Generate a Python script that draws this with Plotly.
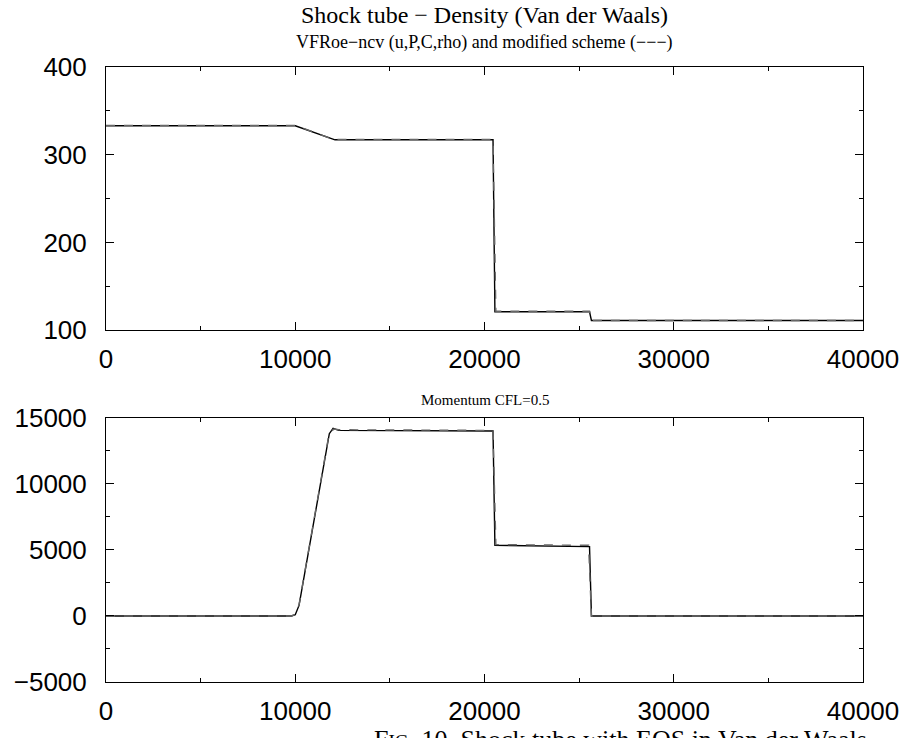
import plotly.graph_objects as go

# Density (top panel)
dens_x_ref = [0, 10000, 12100, 20450, 20550, 25550, 25650, 40000]
dens_y_ref = [333, 333, 317, 317, 121, 121, 111, 111]
dens_x_mod = [0, 10000, 12000, 20450, 20600, 25550, 25650, 40000]
dens_y_mod = [333.5, 333.5, 317.5, 317.5, 121.5, 121.5, 111, 111]

# Momentum (bottom panel)
mom_x_ref = [0, 9800, 10000, 10200, 11800, 12000, 12300, 20450, 20550, 25550, 25650, 40000]
mom_y_ref = [0, 0, 100, 800, 13800, 14200, 14050, 14000, 5350, 5250, 0, 0]
mom_x_mod = [0, 9800, 10000, 10200, 11800, 12050, 12300, 20450, 20600, 25500, 25650, 40000]
mom_y_mod = [0, 0, 120, 850, 13900, 14150, 14100, 14050, 5400, 5350, 0, 0]

x_ticks = [0, 10000, 20000, 30000, 40000]
dens_ticks = [100, 200, 300, 400]
mom_ticks = [-5000, 0, 5000, 10000, 15000]

fig = go.Figure()
fig.add_trace(go.Scatter(x=dens_x_ref, y=dens_y_ref, mode="lines",
                         line=dict(color="black", width=1.4), xaxis="x", yaxis="y"))
fig.add_trace(go.Scatter(x=dens_x_mod, y=dens_y_mod, mode="lines",
                         line=dict(color="#666666", width=1.4, dash="dash"), xaxis="x", yaxis="y"))
fig.add_trace(go.Scatter(x=mom_x_ref, y=mom_y_ref, mode="lines",
                         line=dict(color="black", width=1.4), xaxis="x2", yaxis="y2"))
fig.add_trace(go.Scatter(x=mom_x_mod, y=mom_y_mod, mode="lines",
                         line=dict(color="#666666", width=1.4, dash="dash"), xaxis="x2", yaxis="y2"))

tickfont = dict(family="Liberation Sans, Arial, sans-serif", size=26, color="black")
common = dict(showline=True, linecolor="black", linewidth=1, mirror="ticks",
              ticks="inside", ticklen=8, tickcolor="black", tickwidth=1,
              showgrid=False, zeroline=False, tickfont=tickfont)

fig.update_layout(
    width=911, height=738,
    margin=dict(l=106, r=45, t=67, b=40),
    paper_bgcolor="white", plot_bgcolor="white",
    showlegend=False,
    xaxis=dict(domain=[0, 1], range=[0, 40000], anchor="y", tickvals=x_ticks,
               ticktext=[str(v) for v in x_ticks], ticklabelstandoff=6,
               minor=dict(ticks="inside", dtick=5000, ticklen=4, tickcolor="black"), **common),
    yaxis=dict(domain=[0.5721, 1], range=[100, 400], anchor="x", tickvals=dens_ticks,
               ticktext=[str(v) for v in dens_ticks], ticklabelstandoff=13,
               minor=dict(ticks="inside", dtick=50, ticklen=4, tickcolor="black"), **common),
    xaxis2=dict(domain=[0, 1], range=[0, 40000], anchor="y2", tickvals=x_ticks,
                ticktext=[str(v) for v in x_ticks], ticklabelstandoff=6,
                minor=dict(ticks="inside", dtick=5000, ticklen=4, tickcolor="black"), **common),
    yaxis2=dict(domain=[0, 0.4295], range=[-5000, 15000], anchor="x2", tickvals=mom_ticks,
                ticktext=[("\u2212" + str(-v)) if v < 0 else str(v) for v in mom_ticks],
                ticklabelstandoff=13,
                minor=dict(ticks="inside", dtick=2500, ticklen=4, tickcolor="black"), **common),
)

serif = "Liberation Serif, Times New Roman, serif"
fig.add_annotation(text="Shock tube \u2212 Density (Van der Waals)", xref="paper", yref="paper",
                   x=0.5, y=1, yshift=52, xanchor="center", yanchor="middle", showarrow=False,
                   font=dict(family=serif, size=24, color="black"))
fig.add_annotation(text="VFRoe\u2212ncv (u,P,C,rho) and modified scheme (\u2212\u2212\u2212)", xref="paper", yref="paper",
                   x=0.5, y=1, yshift=25, xanchor="center", yanchor="middle", showarrow=False,
                   font=dict(family=serif, size=18, color="black"))
fig.add_annotation(text="Momentum CFL=0.5", xref="paper", yref="paper",
                   x=0.5, y=0.4295, yshift=18, xanchor="center", yanchor="middle", showarrow=False,
                   font=dict(family=serif, size=15, color="black"))
fig.add_annotation(text="F<span style='font-size:19px'>IG</span>. 10. Shock tube with EOS in Van der Waals", xref="paper", yref="paper",
                   x=0.68, y=0, yshift=-57, xanchor="center", yanchor="middle", showarrow=False,
                   font=dict(family=serif, size=26, color="black"))

fig.write_html("out.html")
